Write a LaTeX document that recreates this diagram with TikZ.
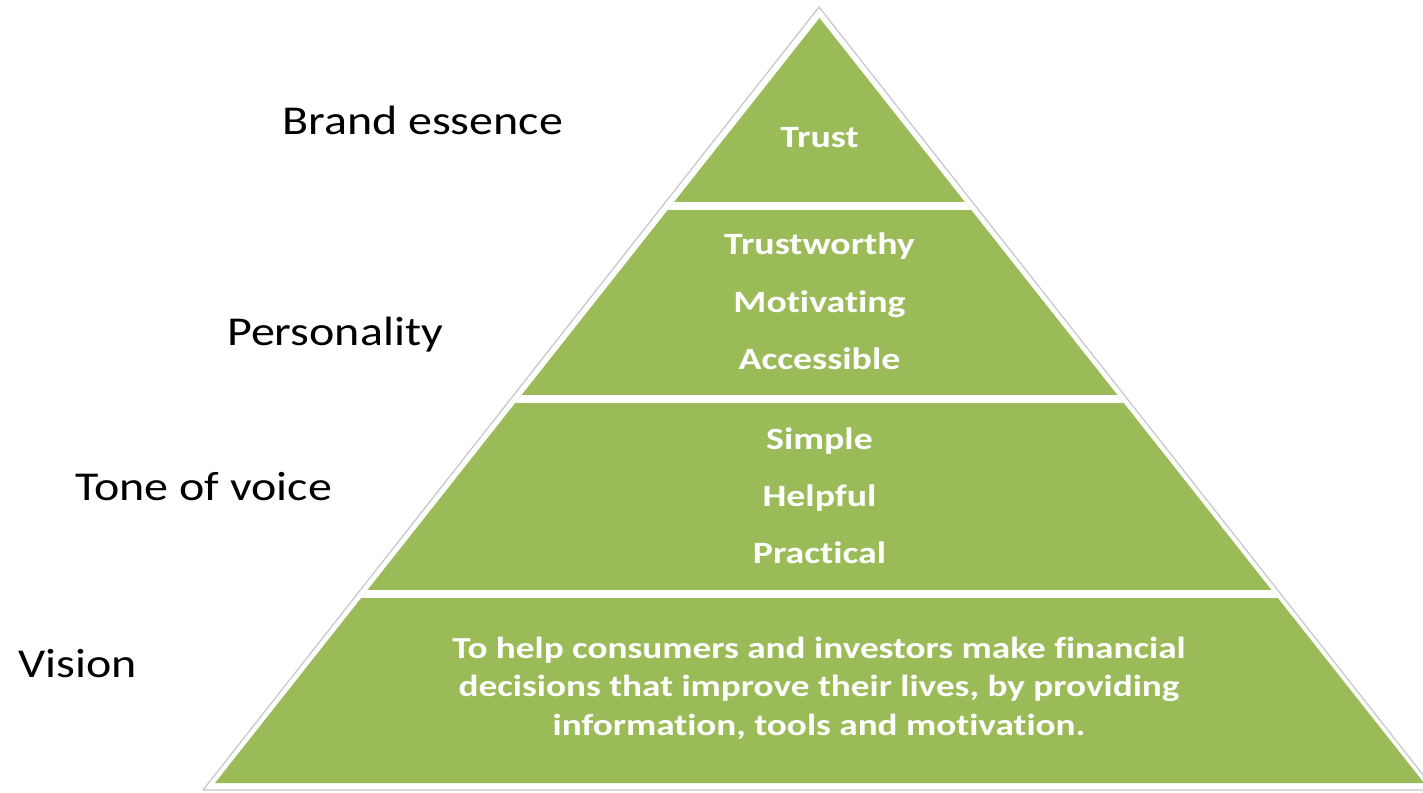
\documentclass[tikz,border=0pt]{standalone}
\usepackage{fontspec}
\setmainfont{Carlito}[Ligatures={NoCommon}]
\definecolor{pgreen}{HTML}{9BBB59}
\tikzset{
  lbl/.style={anchor=base west, inner sep=0pt, text=black, xscale=1.17, font=\fontsize{41}{48}\selectfont},
  intext/.style={anchor=base, inner sep=0pt, text=white, xscale=1.22, font=\bfseries\fontsize{31}{38}\selectfont},
  vistext/.style={anchor=north, inner sep=0pt, text=white, align=center, xscale=1.22, font=\bfseries\fontsize{30.5}{38.2}\selectfont},
  stripe/.style={fill=white, draw=none}
}
\begin{document}
\begin{tikzpicture}[x=1pt,y=-1pt]
\useasboundingbox (0,0) rectangle (1423,792);
% outer outline
\filldraw[fill=white, draw=black!22, line width=1.2pt] (819,7) -- (203,790) -- (1435,790) -- cycle;
% green pyramid
\fill[pgreen] (819.5,18) -- (215,783) -- (1424,783) -- cycle;
\begin{scope}
  \clip (819.5,18) -- (215,783) -- (1424,783) -- cycle;
  \fill[stripe] (100,201.5) rectangle (1500,209.5);
  \fill[stripe] (100,394.5) rectangle (1500,402.5);
  \fill[stripe] (100,590) rectangle (1500,598);
\end{scope}
% inner texts
\node[intext] (trust) at (819.5,147) {Trust};
\node[intext] (tw) at (819.5,254) {Trustworthy};
\node[intext] (mot) at (819.5,312) {Motivating};
\node[intext] (acc) at (819.5,369) {Accessible};
\node[intext] (simp) at (819.5,449) {Simple};
\node[intext] (help) at (819.5,506) {Helpful};
\node[intext] (prac) at (819.5,563) {Practical};
\node[vistext] (vis) at (819,637) {To help consumers and investors make financial\\decisions that improve their lives, by providing\\information, tools and motivation.};
% left labels
\node[lbl] (be) at (282,134) {Brand essence};
\node[lbl] (pers) at (227,345) {Personality};
\node[lbl] (tov) at (75,500) {Tone of voice};
\node[lbl] (vision) at (18,677) {Vision};
\end{tikzpicture}
\end{document}
